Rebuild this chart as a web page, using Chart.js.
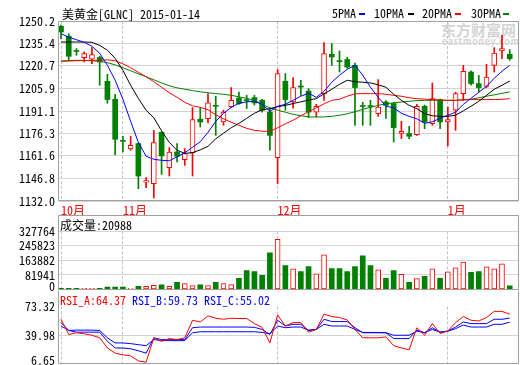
<!DOCTYPE html>
<html><head><meta charset="utf-8">
<script src="https://cdn.jsdelivr.net/npm/chart.js@4.4.1/dist/chart.umd.min.js"></script>
<style>
html,body{margin:0;padding:0;background:#fff;}
body{width:520px;height:365px;overflow:hidden;position:relative;}
.pane{position:absolute;left:0;}
.t{position:absolute;white-space:nowrap;line-height:12px;color:#000;}
.mk{position:absolute;height:2px;width:6px;}
</style></head><body>
<div class="t" id="wm1" style="left:441px;top:22px;color:#d4d4d4;font-weight:bold;font-size:15px;line-height:15px;">东方财富网</div>
<div class="t" id="wm2" style="left:442px;top:37px;color:#d4d4d4;font-weight:bold;font-size:9px;line-height:9px;letter-spacing:0.6px;">eastmoney.com</div>
<div class="pane" style="top:0;"><canvas id="cMain" width="520" height="216"></canvas></div>
<div class="pane" style="top:215px;"><canvas id="cVol" width="520" height="88"></canvas></div>
<div class="pane" style="top:290px;"><canvas id="cRsi" width="520" height="88"></canvas></div>
<div class="t" id="title" style="left:62px;top:8px;">美黄金[GLNC] 2015-01-14</div>
<div class="t lg" style="left:332px;top:7px;">5PMA</div><div class="mk" style="left:359px;top:13px;background:#0000ff"></div>
<div class="t lg" style="left:374px;top:7px;">10PMA</div><div class="mk" style="left:408px;top:13px;background:#000"></div>
<div class="t lg" style="left:422px;top:7px;">20PMA</div><div class="mk" style="left:455px;top:13px;background:#ff0000"></div>
<div class="t lg" style="left:471px;top:7px;">30PMA</div><div class="mk" style="left:503px;top:13px;background:#008000"></div>
<div class="t" id="volTitle" style="left:60px;top:219px;">成交量:20988</div>
<div class="t" style="left:60px;top:294px;color:#ff0000;">RSI_A:64.37</div>
<div class="t" style="left:132px;top:294px;color:#0000ff;">RSI_B:59.73</div>
<div class="t" style="left:204px;top:294px;color:#0000ff;">RSI_C:55.02</div>
<script>
// ---------------- data ----------------
const candleOpen  = [1246.7,1240.2,1230.6,1226.2,1225.1,1226.2,1210.6,1198.8,1171.6,1166.2,1169.7,1144.3,1143.4,1177.1,1153.9,1164.2,1159.2,1163.8,1185.7,1186.1,1194.6,1183.9,1194.0,1199.6,1198.4,1199.9,1198.1,1190.4,1160.5,1210.6,1197.0,1207.5,1204.2,1190.4,1202.5,1228.3,1223.9,1224.9,1221.1,1194.5,1194.4,1189.4,1197.0,1196.0,1176.3,1176.3,1175.6,1194.2,1182.8,1198.6,1183.9,1191.6,1202.5,1216.7,1209.1,1207.3,1221.1,1230.5,1228.3];
const candleHigh  = [1247.5,1241.9,1232.1,1229.9,1232.7,1227.0,1215.2,1202.1,1174.5,1174.5,1170.2,1147.4,1178.4,1177.5,1167.1,1169.7,1166.4,1193.3,1193.3,1202.5,1200.8,1191.6,1206.5,1203.6,1201.4,1201.4,1198.8,1192.7,1218.3,1215.7,1213.0,1211.3,1205.8,1195.5,1236.0,1235.4,1230.5,1226.4,1222.6,1196.8,1198.1,1211.7,1198.0,1196.4,1184.3,1181.1,1195.5,1195.0,1209.5,1199.0,1193.7,1203.4,1221.1,1217.4,1214.5,1221.8,1232.7,1240.8,1231.4];
const candleLow   = [1238.6,1224.4,1227.7,1223.3,1222.2,1208.0,1196.2,1162.5,1164.2,1165.3,1140.1,1140.8,1134.0,1149.5,1148.4,1157.6,1155.4,1148.4,1180.6,1183.2,1175.1,1181.7,1193.3,1195.5,1192.7,1195.0,1190.3,1165.3,1143.4,1191.6,1193.0,1201.4,1186.7,1187.2,1198.1,1221.1,1216.7,1219.1,1181.7,1181.7,1181.7,1187.6,1186.3,1170.7,1173.0,1173.0,1175.1,1179.5,1181.7,1179.5,1168.1,1178.4,1198.1,1208.0,1203.6,1206.5,1216.7,1225.5,1224.4];
const candleClose = [1243.0,1227.0,1230.2,1228.8,1228.1,1223.3,1198.6,1172.5,1171.2,1168.6,1148.4,1145.4,1170.4,1161.6,1164.2,1161.4,1163.1,1185.5,1183.9,1196.4,1194.2,1190.4,1198.1,1196.0,1197.9,1196.4,1191.6,1175.1,1215.7,1198.6,1206.5,1206.8,1190.4,1194.2,1228.8,1226.6,1223.5,1220.0,1206.5,1194.1,1194.0,1193.7,1194.8,1180.2,1177.8,1174.5,1194.2,1183.9,1199.2,1183.9,1185.5,1202.5,1217.2,1209.1,1206.5,1213.4,1229.2,1232.1,1225.5];
const volume = [7000,7000,7000,6000,6000,7000,13000,13000,13000,7000,18500,18500,24000,26000,18500,40600,33000,22000,26000,22000,40600,33000,27700,62800,107000,101500,79400,206700,282400,134800,116300,101500,129200,88600,195600,118200,118200,101500,129200,190200,134800,110700,62800,107000,84900,40600,60900,73800,116300,62800,99700,121800,155000,96000,101500,127400,116300,144000,20988];
const ma5  = [1241.9,1239.5,1237.9,1236.2,1233.6,1229.0,1221.1,1211.3,1198.8,1184.3,1170.5,1161.4,1159.4,1158.7,1158.4,1161.0,1163.7,1167.3,1170.9,1177.1,1184.3,1189.6,1193.5,1196.2,1197.1,1197.5,1195.5,1190.9,1194.2,1195.5,1198.1,1200.8,1202.7,1200.1,1204.0,1210.0,1214.6,1218.5,1221.1,1214.6,1206.7,1200.1,1194.2,1193.2,1189.6,1187.6,1186.0,1183.0,1184.0,1186.3,1188.3,1190.3,1195.5,1199.4,1203.4,1207.3,1212.6,1217.2,1221.1];
const ma10 = [1236.4,1236.4,1236.4,1236.4,1236.2,1234.2,1231.0,1225.7,1217.8,1208.0,1199.4,1191.6,1186.6,1178.1,1170.5,1165.3,1163.3,1163.7,1165.6,1167.9,1172.8,1176.5,1180.1,1183.0,1186.3,1189.6,1191.9,1192.7,1193.9,1194.8,1196.0,1197.1,1198.3,1199.2,1202.4,1205.4,1208.6,1211.3,1210.3,1210.0,1209.5,1208.3,1206.7,1202.1,1198.1,1194.8,1192.7,1189.3,1188.0,1187.6,1187.6,1188.3,1191.2,1194.2,1197.5,1201.4,1205.4,1208.0,1210.8];
const ma20 = [1223.7,1223.9,1224.1,1224.2,1224.4,1224.4,1224.7,1224.1,1222.1,1219.5,1216.5,1213.6,1210.3,1206.7,1203.1,1200.1,1196.8,1194.5,1193.5,1191.9,1188.6,1186.0,1183.7,1181.7,1179.7,1178.4,1177.8,1177.8,1180.1,1182.7,1185.0,1188.0,1190.6,1193.2,1195.8,1198.1,1198.8,1200.8,1202.4,1202.5,1202.5,1202.5,1202.1,1201.4,1200.8,1199.8,1199.2,1198.9,1198.6,1198.3,1198.1,1198.1,1198.4,1198.6,1198.6,1198.6,1198.6,1198.8,1199.2];
const ma30 = [1223.9,1224.2,1224.4,1224.3,1224.1,1223.7,1222.8,1221.4,1219.5,1217.5,1215.5,1213.6,1211.6,1209.6,1207.7,1206.3,1205.4,1204.5,1203.7,1203.1,1202.5,1202.1,1201.4,1200.4,1199.4,1198.1,1195.5,1193.2,1191.6,1190.3,1188.9,1188.0,1187.2,1187.2,1187.2,1187.6,1188.3,1189.3,1190.6,1192.2,1193.5,1194.8,1195.8,1196.5,1197.0,1197.5,1197.9,1198.1,1198.1,1198.1,1198.1,1198.1,1198.5,1198.8,1199.8,1200.8,1201.7,1202.7,1203.6];
const rsiA = [58.4,40.6,42.6,41.4,39.7,36.7,24.8,18.8,16.8,15.6,9.7,8.1,36.7,32.6,35.8,34.6,36.7,57.2,55.2,62.4,59.6,58.4,59.6,59.3,59.3,53.3,48.9,30.7,63.5,50.5,54.5,54.5,43.3,46.5,64.4,61.6,60.4,57.6,46.5,36.7,36.7,36.7,37.8,27.5,24.8,22.7,48.5,39.7,53.3,41.8,44.5,54.5,61.6,57.2,56.4,60.4,67.6,67.6,64.37];
const rsiB = [54.5,45.3,43.3,43.3,43.3,43.3,32.6,24.8,24.8,23.9,21.5,18.8,36.7,34.6,34.6,34.6,34.6,48.5,49.3,49.3,49.3,49.3,49.3,49.3,49.3,48.9,46.5,40.6,57.2,50.5,52.5,52.5,45.3,46.5,58.4,55.7,55.7,55.7,48.5,42.6,42.6,42.6,42.6,35.8,35.8,35.8,45.7,42.6,48.5,43.3,44.5,49.3,55.2,53.3,53.3,53.3,58.4,58.4,59.73];
const rsiC = [50.5,45.3,45.7,45.7,45.7,45.3,36.7,30.7,30.7,29.9,28.7,27.5,34.6,33.4,33.4,33.4,33.4,42.6,43.8,43.8,43.8,43.8,43.8,43.8,43.8,43.8,43.0,41.4,50.5,48.5,49.3,49.3,45.7,46.5,52.5,50.5,50.5,50.5,46.5,43.0,43.0,43.0,42.6,39.7,39.7,39.7,44.5,42.6,46.5,43.3,44.5,47.4,51.6,49.3,49.3,49.3,52.5,52.5,55.02];
const priceTicks = [1132.0,1146.8,1161.6,1176.3,1191.1,1205.9,1220.7,1235.4,1250.2];
const volumeTicks = [0,81941,163882,245823,327764];
const rsiTicks = [6.65,39.98,73.32];
const monthTickIdx = [0,8,28,50];
const monthLabels = ['10月','11月','12月','1月'];

// ---------------- font ----------------
function pickFont(){
  const c=document.createElement('canvas').getContext('2d');
  const s='0123456789ABCDEF';
  c.font='12px serif'; const w0=c.measureText(s).width;
  c.font='12px "Noto Sans Mono CJK SC", serif'; const w1=c.measureText(s).width;
  if (Math.abs(w1-96)<1.5 && Math.abs(w1-w0)>0.5) return {family:'"Noto Sans Mono CJK SC", "Noto Sans CJK SC", monospace', size:12};
  return {family:'"Liberation Mono", "Noto Sans CJK SC", monospace', size:10};
}
const F = pickFont();
document.querySelectorAll('.t').forEach(el=>{ if(!el.id.startsWith('wm')){ el.style.fontFamily=F.family; el.style.fontSize=F.size+'px'; }});
document.querySelectorAll('#wm1,#wm2').forEach(el=>el.style.fontFamily='"Noto Sans CJK SC", sans-serif');
Chart.defaults.font.family = F.family;
Chart.defaults.font.size = F.size;

const UP='#ff0000', DOWN='#008000';
const isUp = candleClose.map((c,i)=>c>=candleOpen[i]);

const framePlugin = {
  id:'frame',
  afterDraw(chart, args, opts){
    const a=chart.chartArea, ctx=chart.ctx;
    ctx.save(); ctx.strokeStyle='#a0a0a0'; ctx.lineWidth=1;
    const l=Math.round(a.left)+0.5, r=Math.round(a.right)-0.5;
    const t=Math.round(a.top-(opts.extra||0))+0.5, b=Math.round(a.bottom)-0.5;
    ctx.beginPath();
    if (opts.noTop){ ctx.moveTo(l,t); ctx.lineTo(l,b); ctx.lineTo(r,b); ctx.lineTo(r,t); }
    else { ctx.rect(l,t,r-l,b-t); }
    ctx.stroke(); ctx.restore();
  }
};

function xScale(showLabels){
  return {type:'linear', min:-0.388, max:59.2, offset:false, bounds:'data',
    afterBuildTicks:s=>{s.ticks=monthTickIdx.map(v=>({value:v}));},
    ticks:{display:showLabels, autoSkip:false, maxRotation:0, align:'start', padding:2, color:UP,
      callback:(v)=>monthLabels[monthTickIdx.indexOf(v)]},
    grid:{color:'#c4c4c4', drawTicks:false, lineWidth:1, offset:false},
    border:{display:false, dash:[3,2]},
    afterFit:s=>{s.height = showLabels?15:0;}
  };
}
// shift: per-tick vertical nudge of the label (px, negative = up), done with a two-line label
function yScale(min,max,ticks,fmt,gridFn,shift){
  shift = shift || {};
  return {min:min, max:max,
    afterBuildTicks:s=>{s.ticks=ticks.map(v=>({value:v}));},
    ticks:{color:'#000', padding:3, autoSkip:false,
      callback:(v)=>{ const s=fmt(v), d=shift[s]; if(!d) return s; return d<0?[s,'']:['',s]; },
      font:(ctx)=>{ const s=ctx.tick?fmt(ctx.tick.value):''; const d=shift[s];
        return {family:F.family, size:F.size, lineHeight: d? (Math.abs(d)*2)+'px' : 1.2}; }},
    grid:{color:gridFn||'#d4d4d4', drawTicks:false, lineWidth:1},
    border:{display:false},
    afterFit:s=>{s.width=58;}
  };
}
const pts = arr => arr.map((v,i)=>({x:i,y:v}));
function lineDs(arr,color){ return {type:'line', data:pts(arr), borderColor:color, borderWidth:1, pointRadius:0, tension:0, order:0}; }
const common = {responsive:false, animation:false, events:[], plugins:{legend:{display:false}, tooltip:{enabled:false}}};

// main candles
new Chart(document.getElementById('cMain'), {
  type:'bar',
  data:{datasets:[
    lineDs(ma5,'#0000ff'), lineDs(ma10,'#000000'), lineDs(ma20,'#ff0000'), lineDs(ma30,'#008000'),
    {type:'bar', order:1, grouped:false, barThickness:5, minBarLength:1, borderSkipped:false,
      data:candleOpen.map((o,i)=>({x:i,y:[o,candleClose[i]]})),
      backgroundColor:isUp.map(u=>u?'#ffffff':DOWN), borderColor:isUp.map(u=>u?UP:DOWN), borderWidth:isUp.map(u=>u?1:0)},
    {type:'bar', order:2, grouped:false, barThickness:1, borderSkipped:false,
      data:candleLow.map((l,i)=>({x:i,y:[l,candleHigh[i]]})),
      backgroundColor:isUp.map(u=>u?UP:DOWN), borderWidth:0}
  ]},
  options:Object.assign({}, common, {
    layout:{padding:{top:21,right:1,left:0,bottom:0}},
    plugins:Object.assign({}, common.plugins, {frame:{extra:0}}),
    scales:{x:xScale(true), y:yScale(1132.0,1250.2,priceTicks,v=>v.toFixed(1))}
  }),
  plugins:[framePlugin]
});

// volume
new Chart(document.getElementById('cVol'), {
  type:'bar',
  data:{datasets:[{grouped:false, barThickness:5, borderSkipped:false,
    data:pts(volume),
    backgroundColor:isUp.map(u=>u?'#ffffff':DOWN), borderColor:isUp.map(u=>u?UP:DOWN), borderWidth:isUp.map(u=>u?1:0)}]},
  options:Object.assign({}, common, {
    layout:{padding:{top:16.3,right:1,left:0,bottom:13.5}},
    plugins:Object.assign({}, common.plugins, {frame:{extra:16}}),
    scales:{x:xScale(false), y:yScale(0,327764,volumeTicks,v=>String(v), c=>c.tick && c.tick.value===0?'rgba(0,0,0,0)':'#d4d4d4', {'0':-3})}
  }),
  plugins:[framePlugin]
});

// RSI
new Chart(document.getElementById('cRsi'), {
  type:'line',
  data:{datasets:[lineDs(rsiA,'#ff0000'), lineDs(rsiB,'#0000ff'), lineDs(rsiC,'#0000ff')]},
  options:Object.assign({}, common, {
    layout:{padding:{top:16.5,right:1,left:0,bottom:14.5}},
    plugins:Object.assign({}, common.plugins, {frame:{extra:16.5, noTop:true}}),
    scales:{x:xScale(false), y:yScale(6.65,73.32,rsiTicks,v=>v.toFixed(2), c=>c.tick && c.tick.value===39.98?'#d4d4d4':'rgba(0,0,0,0)', {'6.65':-3})}
  }),
  plugins:[framePlugin]
});
</script>
</body></html>
